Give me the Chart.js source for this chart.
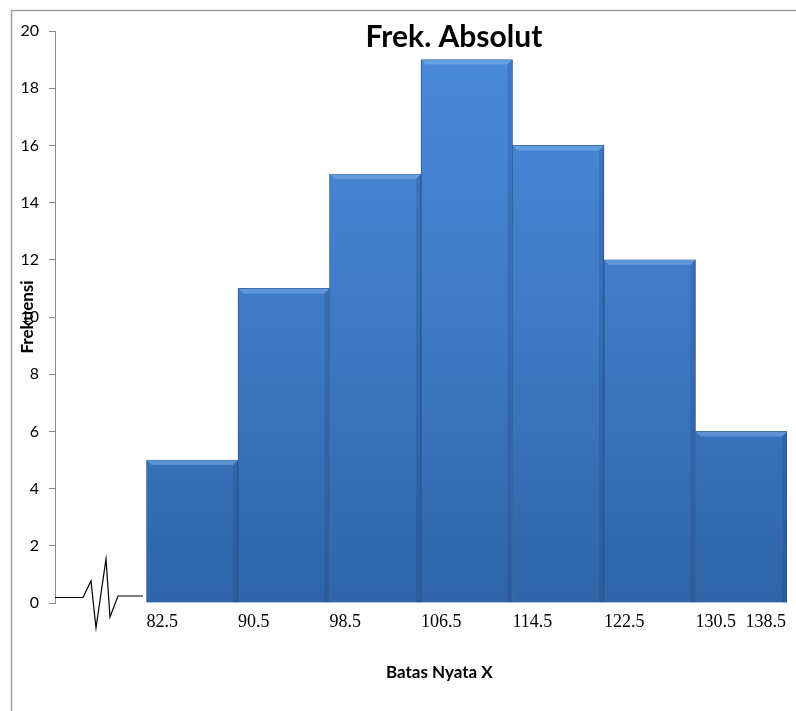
<!DOCTYPE html>
<html>
<head>
<meta charset="utf-8">
<title>Frek. Absolut</title>
<script src="https://cdn.jsdelivr.net/npm/chart.js@4.4.1/dist/chart.umd.min.js"></script>
<style>
  html, body { margin: 0; padding: 0; background: #ffffff; }
  #wrap { width: 796px; height: 711px; }
</style>
</head>
<body>
<div id="wrap"><canvas id="hist" width="796" height="711"></canvas></div>
<script>
// Class boundaries (batas nyata) and absolute frequency per class
const binEdges = [82.5, 90.5, 98.5, 106.5, 114.5, 122.5, 130.5, 138.5];
const tickLabels = ['82.5', '90.5', '98.5', '106.5', '114.5', '122.5', '130.5', '138.5'];
const frequencies = [5, 11, 15, 19, 16, 12, 6];
const yMin = 0, yMax = 20, yStep = 2;

const chartTitle = 'Frek. Absolut';
const xTitle = 'Batas Nyata X';
const yTitle = 'Frekuensi';

// one bar per class, centred between its two boundaries
const classWidth = binEdges[1] - binEdges[0];
const points = frequencies.map((f, i) => ({ x: (binEdges[i] + binEdges[i + 1]) / 2, y: f }));

const serif = '"Liberation Serif", "Times New Roman", serif';
const sans = 'Lato, "Open Sans", sans-serif';

// light frame along the top and left of the page
const framePlugin = {
  id: 'frame',
  beforeDraw(chart) {
    const c = chart.ctx;
    c.save();
    c.strokeStyle = '#9f9f9f';
    c.lineWidth = 1.5;
    c.beginPath();
    c.moveTo(11.5, chart.height);
    c.lineTo(11.5, 10.5);
    c.lineTo(chart.width, 10.5);
    c.stroke();
    c.restore();
  }
};

// bevel highlight on top of each bar
const bevelPlugin = {
  id: 'bevel',
  afterDatasetsDraw(chart) {
    const c = chart.ctx;
    const meta = chart.getDatasetMeta(0);
    c.save();
    meta.data.forEach(el => {
      const p = el.getProps(['x', 'y', 'base', 'width'], true);
      const l = p.x - p.width / 2, r = p.x + p.width / 2, t = p.y, b = p.base;
      const d = 5;
      c.fillStyle = 'rgba(140,185,240,0.45)';
      c.beginPath();
      c.moveTo(l, t); c.lineTo(r, t); c.lineTo(r - d, t + d); c.lineTo(l + d, t + d);
      c.closePath(); c.fill();
      c.fillStyle = 'rgba(20,50,100,0.18)';
      c.beginPath();
      c.moveTo(r, t); c.lineTo(r, b); c.lineTo(r - d, b); c.lineTo(r - d, t + d);
      c.closePath(); c.fill();
    });
    c.restore();
  }
};

// titles, the last boundary label and the axis-break mark
const decorPlugin = {
  id: 'decor',
  afterDraw(chart) {
    const c = chart.ctx;
    const a = chart.chartArea;
    const xs = chart.scales.x;
    const ys = chart.scales.y;
    c.save();

    // chart title
    c.fillStyle = '#000';
    c.font = 'bold 30px ' + sans;
    c.textAlign = 'center';
    c.textBaseline = 'middle';
    c.fillText(chartTitle, a.left + (a.right - a.left) * 0.545, 37);

    // x axis title
    c.font = 'bold 17px ' + sans;
    c.fillText(xTitle, a.left + (a.right - a.left) * 0.525, a.bottom + 70);

    // last boundary label, right aligned at the end of the axis
    const items = xs.getLabelItems();
    const ref = items[0];
    c.font = '18px ' + serif;
    c.textAlign = 'right';
    c.textBaseline = ref.options.textBaseline;
    c.fillStyle = '#000';
    c.fillText(tickLabels[tickLabels.length - 1],
      xs.getPixelForValue(binEdges[binEdges.length - 1]) - 1,
      ref.options.translation[1] + (ref.textOffset || 0));

    // axis break zig-zag between the origin and the first class
    const x0 = a.left, y0 = ys.getPixelForValue(0);
    const dx = [0, 28, 36, 41, 51, 55, 63, 88];
    const dy = [-5.5, -5.5, -22, 25, -44, 14, -7, -7];
    c.strokeStyle = '#000';
    c.lineWidth = 1.2;
    c.lineJoin = 'miter';
    c.beginPath();
    dx.forEach((v, i) => { i ? c.lineTo(x0 + v, y0 + dy[i]) : c.moveTo(x0 + v, y0 + dy[i]); });
    c.stroke();
    c.restore();
  }
};

new Chart(document.getElementById('hist'), {
  type: 'bar',
  data: {
    datasets: [{
      label: chartTitle,
      data: points,
      barPercentage: 1,
      categoryPercentage: 1,
      borderColor: '#2a5b97',
      borderWidth: 1,
      borderSkipped: 'bottom',
      backgroundColor(ctx) {
        const area = ctx.chart.chartArea;
        if (!area) return '#3d78c4';
        const g = ctx.chart.ctx.createLinearGradient(0, area.top, 0, area.bottom);
        g.addColorStop(0, '#4a8cdb');
        g.addColorStop(0.5, '#3e7ac6');
        g.addColorStop(1, '#2f65a8');
        return g;
      }
    }]
  },
  options: {
    responsive: false,
    animation: false,
    layout: { padding: { left: 11, top: 31, right: 9, bottom: 0 } },
    plugins: {
      legend: { display: false },
      title: { display: false },
      tooltip: { enabled: false }
    },
    scales: {
      x: {
        type: 'linear',
        min: binEdges[0] - classWidth,
        max: binEdges[binEdges.length - 1],
        offset: false,
        afterBuildTicks(s) {
          s.ticks = binEdges.slice(0, -1).map(v => ({ value: v }));
        },
        afterFit(s) { s.height = 108; },
        grid: { display: false },
        border: { display: false },
        ticks: {
          align: 'start',
          padding: 0,
          color: '#000',
          font: { family: serif, size: 18 },
          callback(v) {
            const i = binEdges.indexOf(v);
            return i >= 0 ? tickLabels[i] : '';
          }
        }
      },
      y: {
        min: yMin,
        max: yMax,
        afterFit(s) { s.width = 44; },
        grid: {
          drawOnChartArea: false,
          drawTicks: true,
          tickLength: 6,
          color: '#8c8c8c'
        },
        border: { display: true, color: '#8c8c8c', width: 1 },
        ticks: {
          stepSize: yStep,
          padding: 10,
          color: '#000',
          font: { family: sans, size: 16 }
        },
        title: {
          display: true,
          text: yTitle,
          color: '#000',
          font: { family: sans, size: 17, weight: 'bold' },
          padding: { top: 6, bottom: 0 }
        }
      }
    }
  },
  plugins: [framePlugin, bevelPlugin, decorPlugin]
});
</script>
</body>
</html>
